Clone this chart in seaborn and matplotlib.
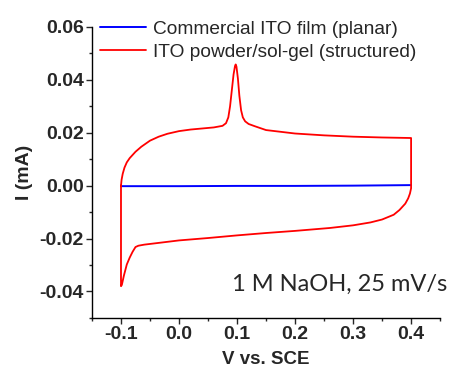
import numpy as np
import pandas as pd
import matplotlib
matplotlib.use("Agg")
import matplotlib.pyplot as plt
import seaborn as sns
from matplotlib.ticker import MultipleLocator, FormatStrFormatter

sns.set_style("ticks")
plt.rcParams['font.family'] = ['Liberation Sans', 'DejaVu Sans']

# Planar ITO film: essentially flat current over the window
v_planar = [-0.1, 0.0, 0.1, 0.2, 0.3, 0.4]
i_planar = [-0.0002, -0.0002, -0.0001, -0.0001, 0.0, 0.0002]

# Structured ITO: CV loop (forward then reverse)
v_struct = [-0.1, -0.099, -0.097, -0.094, -0.09, -0.085, -0.075, -0.065, -0.05, -0.035, -0.02,
            0.0, 0.02, 0.04, 0.06, 0.075, 0.081, 0.085, 0.088, 0.091, 0.094,
            0.0965, 0.0977, 0.099, 0.1015, 0.104, 0.107, 0.110, 0.114, 0.12, 0.13, 0.15, 0.2,
            0.25, 0.3, 0.35, 0.4, 0.4, 0.4,
            0.398, 0.395, 0.39, 0.38, 0.37, 0.35, 0.33, 0.30, 0.26, 0.2,
            0.15, 0.1, 0.05, 0.0, -0.03, -0.06, -0.07, -0.075, -0.08, -0.085,
            -0.09, -0.095, -0.0985, -0.1, -0.1]
i_struct = [0.0, 0.0022, 0.0045, 0.0068, 0.0088, 0.0104, 0.0128, 0.0147, 0.0170, 0.0185, 0.0196,
            0.0206, 0.0212, 0.0216, 0.0220, 0.0226, 0.0236, 0.0258, 0.030, 0.036, 0.0420,
            0.0452, 0.0458, 0.0450, 0.0405, 0.034, 0.0285, 0.0258, 0.0243, 0.0233, 0.0225, 0.0210, 0.0197,
            0.0190, 0.0185, 0.0182, 0.0180, 0.0, -0.001,
            -0.003, -0.0048, -0.0068, -0.0092, -0.0110, -0.0128, -0.0139, -0.0150, -0.0160, -0.0171,
            -0.0179, -0.0188, -0.0198, -0.0207, -0.0215, -0.0223, -0.0227, -0.0232, -0.025, -0.0272,
            -0.0298, -0.0340, -0.0375, -0.0380, 0.0]

labels = ["Commercial ITO film (planar)", "ITO powder/sol-gel (structured)"]
annotation = "1 M NaOH, 25 mV/s"

fig = plt.figure(figsize=(4.5, 3.68), dpi=100)
ax = fig.add_axes([0.2044, 0.136, 0.7736, 0.791])

df_p = pd.DataFrame({"V": v_planar, "I": i_planar})
df_s = pd.DataFrame({"V": v_struct, "I": i_struct})
sns.lineplot(data=df_p, x="V", y="I", sort=False, estimator=None, color="#0000ff",
             lw=1.4, ax=ax, label=labels[0])
sns.lineplot(data=df_s, x="V", y="I", sort=False, estimator=None, color="#ff0000",
             lw=1.3, ax=ax, label=labels[1])

ax.set_xlim(-0.15, 0.45)
ax.set_ylim(-0.05, 0.06)
ax.xaxis.set_major_locator(MultipleLocator(0.1))
ax.xaxis.set_minor_locator(MultipleLocator(0.05))
ax.yaxis.set_major_locator(MultipleLocator(0.02))
ax.yaxis.set_minor_locator(MultipleLocator(0.01))
ax.xaxis.set_major_formatter(FormatStrFormatter('%.1f'))
ax.yaxis.set_major_formatter(FormatStrFormatter('%.2f'))
ax.tick_params(axis='both', which='major', length=4.3, width=1, labelsize=14, pad=1.5)
ax.tick_params(axis='both', which='minor', length=2.3, width=1)
ax.set_yticks([-0.04, -0.02, 0.0, 0.02, 0.04, 0.06])
for lab in ax.get_xticklabels() + ax.get_yticklabels():
    lab.set_fontweight('bold')

sns.despine(ax=ax)
for s in ['left', 'bottom']:
    ax.spines[s].set_linewidth(1.0)
    ax.spines[s].set_color('black')

ax.set_xlabel("V vs. SCE", fontsize=13.5, fontweight='bold', labelpad=6)
ax.set_ylabel("I (mA)", fontsize=14, fontweight='bold', labelpad=5)

leg = ax.legend(loc='upper left', bbox_to_anchor=(-0.01, 1.062), frameon=False,
                fontsize=13.8, handlelength=2.4, handletextpad=0.35, borderaxespad=0.2,
                labelspacing=0.3)

ax.text(1.02, 0.115, annotation, transform=ax.transAxes, ha='right', va='center',
        fontsize=17, family=['Lato', 'DejaVu Sans'])

fig.savefig("out.png", dpi=100)
